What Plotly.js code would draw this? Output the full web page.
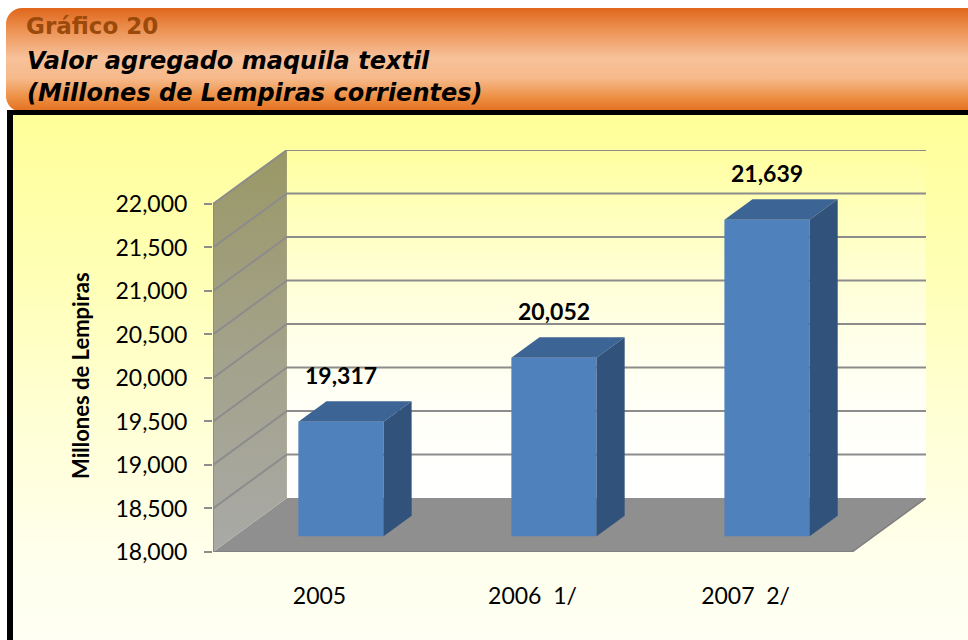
<!DOCTYPE html>
<html>
<head>
<meta charset="utf-8">
<script src="https://cdn.plot.ly/plotly-3.0.1.min.js"></script>
<style>
html,body{margin:0;padding:0;width:968px;height:640px;overflow:hidden;background:#ffffff;}
#banner{position:absolute;left:6px;top:8px;width:1000px;height:104px;border-radius:16px;
  background:linear-gradient(to bottom,#E0661A 0%,#EC9050 20%,#F7C19A 48%,#F6B98A 68%,#EC8A3C 88%,#E36E20 100%);}
#frame{position:absolute;left:7px;top:110px;width:1000px;height:600px;border-left:6px solid #000;border-top:5px solid #000;
  background:linear-gradient(to bottom,#FFFF99 0%,#FFFFB4 25%,#FFFFD4 50%,#FFFFEE 75%,#FFFFF8 100%);}
#chart{position:absolute;left:0;top:0;width:968px;height:640px;}
</style>
</head>
<body>
<div id="banner"></div>
<div id="frame"></div>
<div id="chart"></div>
<script>
// ---- data ----
const categories = ['2005', '2006  1/', '2007  2/'];
const values = [19317, 20052, 21639];
const valueLabels = ['19,317', '20,052', '21,639'];
const yTickVals = [18000, 18500, 19000, 19500, 20000, 20500, 21000, 21500, 22000];
const yTickText = ['18,000', '18,500', '19,000', '19,500', '20,000', '20,500', '21,000', '21,500', '22,000'];

// ---- 3D projection geometry (in axis units) ----
const Y_BASE = yTickVals[0];
const Y_TOP = yTickVals[yTickVals.length - 1];
const DEPTH_X = 0.347, DEPTH_Y = 620;
const BAR_FRONT = 0.29, BAR_DEPTH = 0.38, BAR_W = 0.4;
const N = categories.length;
const X_LEFT = 0.5, X_RIGHT = N + 0.5;
const xRange = [X_LEFT, X_RIGHT + DEPTH_X];
const yRange = [Y_BASE, Y_TOP + DEPTH_Y];
const catPos = categories.map((c, i) => i + 1);

// page layout helpers
const W = 968, H = 640, ML = 213, MR = 42, MT = 150, MB = 88;
const pw = W - ML - MR, ph = H - MT - MB;
const pX = px => (px - ML) / pw;
const pY = py => (H - MB - py) / ph;

const gray = '#8C8C8C';
const base = {type: 'scatter', mode: 'lines', hoverinfo: 'skip', showlegend: false};
const traces = [];

// floor
traces.push(Object.assign({}, base, {
  x: [X_LEFT, X_RIGHT, X_RIGHT + DEPTH_X, X_LEFT + DEPTH_X, X_LEFT],
  y: [Y_BASE, Y_BASE, Y_BASE + DEPTH_Y, Y_BASE + DEPTH_Y, Y_BASE],
  fill: 'toself', fillcolor: '#8F8F8F', line: {width: 0}
}));
traces.push(Object.assign({}, base, {
  x: [X_LEFT, X_RIGHT, X_RIGHT + DEPTH_X],
  y: [Y_BASE, Y_BASE, Y_BASE + DEPTH_Y],
  line: {color: '#7E7E7E', width: 1.5}
}));
// back wall
traces.push(Object.assign({}, base, {
  x: [X_LEFT + DEPTH_X, X_RIGHT + DEPTH_X, X_RIGHT + DEPTH_X, X_LEFT + DEPTH_X, X_LEFT + DEPTH_X],
  y: [Y_BASE + DEPTH_Y, Y_BASE + DEPTH_Y, Y_TOP + DEPTH_Y, Y_TOP + DEPTH_Y, Y_BASE + DEPTH_Y],
  fill: 'toself', line: {width: 0},
  fillgradient: {type: 'vertical', colorscale: [[0, 'rgba(255,255,255,1)'], [0.3, 'rgba(255,255,255,0.8)'], [1, 'rgba(255,255,255,0)']]}
}));
// left wall
traces.push(Object.assign({}, base, {
  x: [X_LEFT, X_LEFT, X_LEFT + DEPTH_X, X_LEFT + DEPTH_X, X_LEFT],
  y: [Y_BASE, Y_TOP, Y_TOP + DEPTH_Y, Y_BASE + DEPTH_Y, Y_BASE],
  fill: 'toself', line: {width: 0},
  fillgradient: {type: 'vertical', colorscale: [[0, '#A9A9A7'], [0.5, '#A3A28A'], [1, '#9A9866']]}
}));
// gridlines (left wall + back wall)
const gx = [], gy = [];
yTickVals.slice(1).forEach(t => {
  gx.push(X_LEFT, X_LEFT + DEPTH_X, X_RIGHT + DEPTH_X, null);
  gy.push(t, t + DEPTH_Y, t + DEPTH_Y, null);
});
traces.push(Object.assign({}, base, {x: gx, y: gy, line: {color: gray, width: 2}}));
// front-left axis edge
traces.push(Object.assign({}, base, {x: [X_LEFT, X_LEFT], y: [Y_BASE, Y_TOP], line: {color: gray, width: 2}}));

// bars (overlay subplot so they sit above the walls)
const fx = catPos.map(c => c + BAR_FRONT * DEPTH_X);
const fBase = Y_BASE + BAR_FRONT * DEPTH_Y;
traces.push({
  type: 'bar', x: fx, y: values.map(v => v - Y_BASE), base: fBase, width: BAR_W,
  marker: {color: '#4F81BD', line: {width: 0}}, xaxis: 'x2', yaxis: 'y2', hoverinfo: 'skip', showlegend: false
});
const ddx = BAR_DEPTH * DEPTH_X, ddy = BAR_DEPTH * DEPTH_Y;
values.forEach((v, i) => {
  const xl = fx[i] - BAR_W / 2, xr = fx[i] + BAR_W / 2, yt = v + BAR_FRONT * DEPTH_Y, yb = fBase;
  traces.push(Object.assign({}, base, {
    x: [xl, xr, xr + ddx, xl + ddx, xl], y: [yt, yt, yt + ddy, yt + ddy, yt],
    fill: 'toself', fillcolor: '#3C6494', line: {width: 0}, xaxis: 'x2', yaxis: 'y2'
  }));
  traces.push(Object.assign({}, base, {
    x: [xr, xr + ddx, xr + ddx, xr, xr], y: [yb, yb + ddy, yt + ddy, yt, yb],
    fill: 'toself', fillcolor: '#31527B', line: {width: 0}, xaxis: 'x2', yaxis: 'y2'
  }));
});

const annotations = values.map((v, i) => ({
  x: fx[i], y: v + BAR_FRONT * DEPTH_Y, xref: 'x', yref: 'y', text: '<b>' + valueLabels[i] + '</b>',
  showarrow: false, yanchor: 'middle', yshift: 47, font: {size: 23, color: '#000'}
}));
annotations.push({
  xref: 'paper', yref: 'paper', x: pX(80), y: pY(376), text: '<b>Millones de Lempiras</b>',
  textangle: -90, showarrow: false, xanchor: 'center', yanchor: 'middle', font: {size: 22, color: '#000'}
});
annotations.push({
  xref: 'paper', yref: 'paper', x: pX(24), y: pY(26), xanchor: 'left', yanchor: 'middle',
  text: '<b>Gráfico 20</b>', showarrow: false, font: {family: '"DejaVu Sans", sans-serif', size: 23, color: '#9B4A0C'}
});
annotations.push({
  xref: 'paper', yref: 'paper', x: pX(25), y: pY(61), xanchor: 'left', yanchor: 'middle',
  text: '<b><i>Valor agregado maquila textil</i></b>', showarrow: false, font: {family: '"DejaVu Sans", sans-serif', size: 24, color: '#000'}
});
annotations.push({
  xref: 'paper', yref: 'paper', x: pX(25), y: pY(93), xanchor: 'left', yanchor: 'middle',
  text: '<b><i>(Millones de Lempiras corrientes)</i></b>', showarrow: false, font: {family: '"DejaVu Sans", sans-serif', size: 24, color: '#000'}
});

const layout = {
  width: W, height: H, margin: {l: ML, r: MR, t: MT, b: MB},
  paper_bgcolor: 'rgba(0,0,0,0)', plot_bgcolor: 'rgba(0,0,0,0)', showlegend: false,
  font: {family: 'Lato, "Open Sans", sans-serif', color: '#000'},
  xaxis: {range: xRange, tickvals: catPos, ticktext: categories, showgrid: false, zeroline: false, showline: false,
          ticks: '', tickfont: {size: 23}, ticklabelstandoff: 28, fixedrange: true},
  yaxis: {range: yRange, tickvals: yTickVals, ticktext: yTickText, showgrid: false, zeroline: false, showline: false,
          ticks: 'outside', ticklen: 8, tickwidth: 2, tickcolor: gray, tickfont: {size: 23}, ticklabelstandoff: 12, fixedrange: true},
  xaxis2: {overlaying: 'x', anchor: 'y2', range: xRange, visible: false, fixedrange: true},
  yaxis2: {overlaying: 'y', anchor: 'x2', range: yRange, visible: false, fixedrange: true},
  annotations: annotations
};

Plotly.newPlot('chart', traces, layout, {displayModeBar: false, staticPlot: true});
</script>
</body>
</html>
